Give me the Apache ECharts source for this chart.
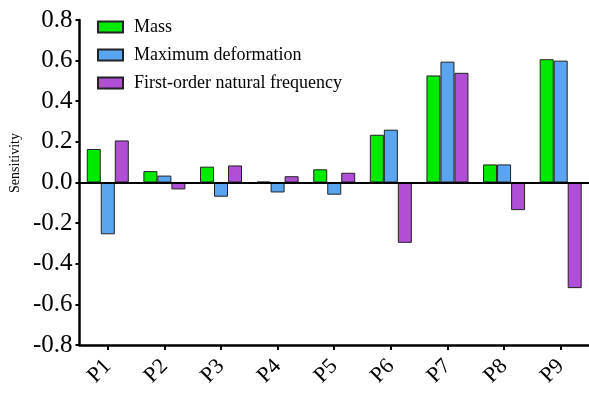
<!DOCTYPE html>
<html lang="en">
<head>
	<meta charset="UTF-8">
	<title>Sensitivity</title>
	<style>
	body, div {
		margin: 0;
		padding: 0;
	}
	#echart {
		width: 589px;
		height: 399px;
		background: #fff;
	}
	</style>
</head>
<body>
	<div id="echart"></div>

	<script src="https://cdn.jsdelivr.net/npm/echarts@6/dist/echarts.min.js"></script>

	<script>
	// data
	var params = ['P1', 'P2', 'P3', 'P4', 'P5', 'P6', 'P7', 'P8', 'P9'];
	var mass = [0.165, 0.056, 0.078, 0.004, 0.065, 0.235, 0.527, 0.089, 0.607];
	var deformation = [-0.255, 0.034, -0.07, -0.049, -0.06, 0.26, 0.595, 0.089, 0.6];
	var frequency = [0.207, -0.034, 0.084, 0.031, 0.048, -0.297, 0.54, -0.136, -0.52];
	var yTicks = { min: -0.8, max: 0.8, step: 0.2 };

	var font = 'Liberation Serif';
	var myEchart = echarts.init(document.getElementById('echart'));

	function barSeries(name, data, color) {
		return {
			name: name,
			type: 'bar',
			barWidth: 14,
			barGap: '0%',
			data: data,
			itemStyle: {
				color: color,
				borderColor: '#222',
				borderWidth: 1
			}
		};
	}

	var series = [
		barSeries('Mass', mass, '#00ea00'),
		barSeries('Maximum deformation', deformation, '#5aa5ef'),
		barSeries('First-order natural frequency', frequency, '#b04fd6')
	];
	// zero line
	series[0].markLine = {
		silent: true,
		symbol: ['none', 'none'],
		label: { show: false },
		lineStyle: { color: '#000', width: 2, type: 'solid' },
		data: [{ yAxis: 0 }]
	};

	var option = {
		animation: false,
		backgroundColor: '#fff',
		textStyle: { fontFamily: font },
		legend: {
			orient: 'vertical',
			left: 97,
			top: 18,
			padding: 0,
			icon: 'rect',
			itemWidth: 25,
			itemHeight: 11,
			itemGap: 10,
			textStyle: {
				fontFamily: font,
				fontSize: 18,
				lineHeight: 17,
				color: '#000',
				padding: [0, 0, 0, 6]
			}
		},
		grid: { left: 78, right: 0, top: 20, bottom: 54 },
		xAxis: {
			type: 'category',
			data: params,
			axisLine: { onZero: false, lineStyle: { color: '#000', width: 2.5 } },
			axisTick: {
				show: true,
				alignWithLabel: true,
				length: 5,
				lineStyle: { color: '#000', width: 2 }
			},
			axisLabel: {
				rotate: 45,
				margin: 18,
				fontFamily: font,
				fontSize: 22,
				color: '#000'
			}
		},
		yAxis: {
			type: 'value',
			min: yTicks.min,
			max: yTicks.max,
			interval: yTicks.step,
			name: 'Sensitivity',
			nameLocation: 'middle',
			nameGap: 44,
			nameTextStyle: {
				fontFamily: font,
				fontSize: 14,
				color: '#000',
				padding: [0, 0, 0, 39]
			},
			axisLine: { show: true, lineStyle: { color: '#000', width: 2.5 } },
			axisTick: { show: true, length: 4, lineStyle: { color: '#000', width: 2 } },
			axisLabel: {
				margin: 7,
				fontFamily: font,
				fontSize: 25,
				color: '#000',
				formatter: function (v) {
					return v.toFixed(1);
				}
			},
			splitLine: { show: false }
		},
		series: series
	};

	myEchart.setOption(option);
	</script>
</body>
</html>
